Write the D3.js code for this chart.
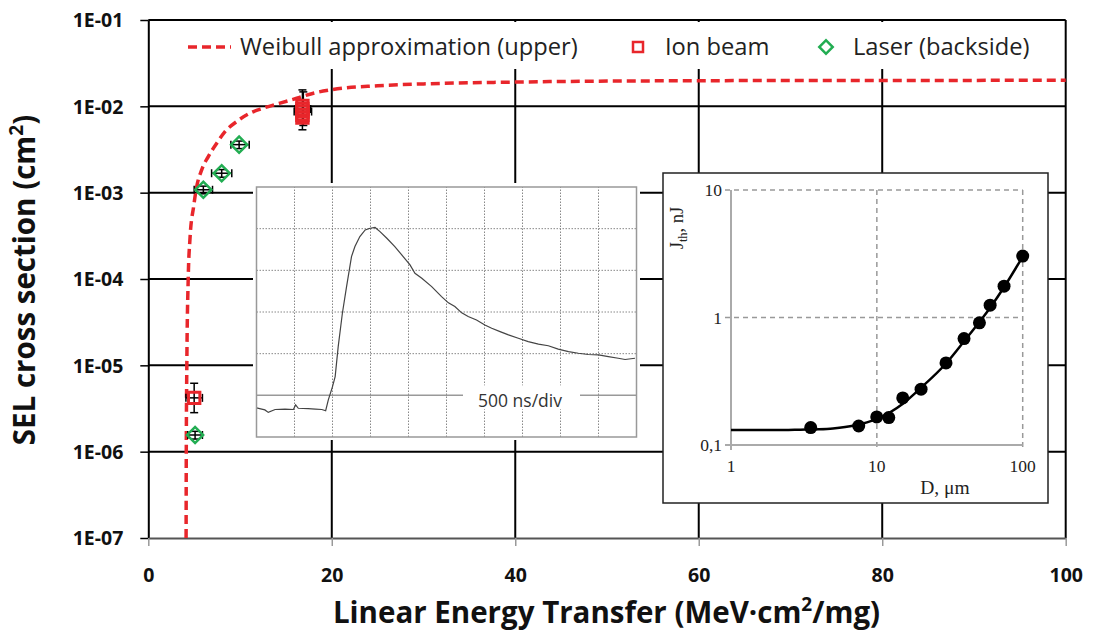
<!DOCTYPE html>
<html>
<head>
<meta charset="UTF-8">
<title>SEL cross section vs LET</title>
<script src="https://cdn.jsdelivr.net/npm/d3@7"></script>
<style>
  body { margin: 0; background: #fff; }
  svg { display: block; font-family: "Open Sans", sans-serif; }
</style>
</head>
<body>
<svg id="chart" width="1106" height="631"></svg>
<script>
// ---------------- main chart data
var xTicks = [0, 20, 40, 60, 80, 100];
var yTicks = [1e-7, 1e-6, 1e-5, 1e-4, 1e-3, 1e-2, 1e-1];
var yTickLabels = ["1E-07", "1E-06", "1E-05", "1E-04", "1E-03", "1E-02", "1E-01"];

// Weibull approximation (upper)
var weibullLET   = [4.12, 4.14, 4.2, 4.35, 4.55, 4.94, 5.28, 5.82, 6.54, 7.46, 8.36, 9.64, 11.09, 12.54, 14.36, 16.18, 18.0, 19.8, 25, 30, 40, 50, 70, 100];
var weibullSigma = [1e-7, 1e-6, 1e-5, 1e-4, 3e-4, 6.9e-4, 1.18e-3, 1.84e-3, 2.62e-3, 3.74e-3, 5.1e-3, 6.67e-3, 8.34e-3, 9.53e-3, 1.09e-2, 1.24e-2, 1.42e-2, 1.55e-2, 1.73e-2, 1.82e-2, 1.91e-2, 1.96e-2, 1.99e-2, 2e-2];

// Ion beam
var ionLET   = [5.0, 16.8, 16.8, 16.8, 16.8, 16.8];
var ionSigma = [4.2e-6, 1.01e-2, 9.3e-3, 8.7e-3, 8.0e-3, 7.4e-3];
var ionErrLET     = [5.0, 16.8, 16.9];
var ionErrSigma   = [4.2e-6, 8.7e-3, 9.3e-3];
var ionErrLETLo   = [4.1, 15.9, 16.0];
var ionErrLETHi   = [5.9, 17.8, 17.7];
var ionErrSigmaLo = [2.83e-6, 5.35e-3, 6.0e-3];
var ionErrSigmaHi = [6.2e-6, 1.55e-2, 1.47e-2];

// Laser (backside)
var laserLET     = [5.1, 6.0, 8.0, 9.9];
var laserSigma   = [1.56e-6, 1.08e-3, 1.68e-3, 3.6e-3];
var laserLETLo   = [4.3, 5.0, 6.9, 9.0];
var laserLETHi   = [5.9, 7.0, 9.1, 11.0];
var laserSigmaLo = [1.4e-6, 0.97e-3, 1.51e-3, 3.24e-3];
var laserSigmaHi = [1.72e-6, 1.19e-3, 1.85e-3, 3.96e-3];

// ---------------- oscilloscope inset (divisions)
var scopeT = [0, 0.22, 0.31, 0.49, 0.75, 0.97, 1.03, 1.10, 1.36, 1.55, 1.72, 1.82, 1.89, 2.0, 2.07, 2.15, 2.26, 2.37, 2.5, 2.59, 2.72, 2.86, 2.99, 3.12, 3.25, 3.43, 3.64, 3.86, 4.04, 4.17, 4.35, 4.61, 4.87, 5.05, 5.22, 5.4, 5.57, 5.79, 6.01, 6.19, 6.41, 6.63, 6.89, 7.15, 7.42, 7.68, 7.94, 8.21, 8.47, 8.73, 9.0, 9.26, 9.52, 9.7, 9.96];
var scopeV = [0.70, 0.65, 0.59, 0.66, 0.67, 0.66, 0.77, 0.69, 0.68, 0.67, 0.66, 0.63, 0.89, 1.21, 1.45, 2.17, 2.97, 3.61, 4.33, 4.57, 4.81, 4.97, 5.01, 5.03, 4.93, 4.77, 4.57, 4.33, 4.13, 3.93, 3.81, 3.61, 3.37, 3.22, 3.13, 2.98, 2.89, 2.81, 2.69, 2.61, 2.53, 2.45, 2.37, 2.29, 2.23, 2.19, 2.11, 2.05, 2.01, 1.98, 1.97, 1.93, 1.89, 1.86, 1.89];

// ---------------- threshold energy inset
var fitD = [1, 2, 3, 4, 5, 7, 10, 15, 20, 30, 40, 50, 60, 75, 100];
var fitJ = [0.131, 0.131, 0.132, 0.133, 0.135, 0.142, 0.16, 0.21, 0.28, 0.44, 0.66, 0.91, 1.2, 1.75, 3.0];
var measD = [3.52, 7.51, 9.98, 12.07, 15.05, 20.1, 29.8, 39.6, 50.5, 59.8, 74.5, 100];
var measJ = [0.137, 0.141, 0.166, 0.164, 0.234, 0.274, 0.44, 0.684, 0.908, 1.25, 1.76, 3.03];
var insetDTicks = [1, 10, 100];
var insetJTicks = [0.1, 1, 10];
var insetJLabels = ["0,1", "1", "10"];

var RED = "#e8262b", GREEN = "#22ad52";

var svg = d3.select("#chart");
var x = d3.scaleLinear().domain([0, 100]).range([148.3, 1065.7]);
var y = d3.scaleLog().domain([1e-7, 1e-1]).range([538, 20]);

//-----------------------------------------
// grid
var grid = svg.append("g");
grid.selectAll(".hg").data(yTicks.slice(1)).enter().append("line")
  .attr("x1", x(0)).attr("x2", x(100))
  .attr("y1", function (d) { return y(d); }).attr("y2", function (d) { return y(d); })
  .attr("stroke", "#000").attr("stroke-width", 2);
grid.selectAll(".vg").data(xTicks.slice(1)).enter().append("line")
  .attr("x1", function (d) { return x(d); }).attr("x2", function (d) { return x(d); })
  .attr("y1", y(1e-7)).attr("y2", y(1e-1))
  .attr("stroke", "#000").attr("stroke-width", 2);

// axes
var yAxis = svg.append("g").attr("transform", "translate(" + x(0) + ",0)")
  .call(d3.axisLeft(y).tickValues(yTicks).tickFormat(function (d, i) { return yTickLabels[i]; })
    .tickSize(8).tickSizeOuter(0).tickPadding(17));
yAxis.select(".domain").attr("stroke", "#000").attr("stroke-width", 2);
yAxis.selectAll(".tick line").attr("stroke", "#000").attr("stroke-width", 1.5);
yAxis.selectAll("text").attr("font-family", "Open Sans").attr("font-weight", "bold")
  .attr("font-size", 19.5).attr("fill", "#111").attr("dy", "0.35em");

var xAxis = svg.append("g").attr("transform", "translate(0," + y(1e-7) + ")")
  .call(d3.axisBottom(x).tickValues(xTicks).tickSize(8).tickSizeOuter(0));
xAxis.select(".domain").attr("stroke", "#555").attr("stroke-width", 2);
xAxis.selectAll(".tick line").attr("stroke", "#999").attr("stroke-width", 1.5);
xAxis.selectAll("text").attr("font-family", "Open Sans").attr("font-weight", "bold")
  .attr("font-size", 19.5).attr("fill", "#111").attr("y", 44).attr("dy", 0);

// axis titles
var xt = svg.append("text").attr("x", 606.5).attr("y", 623).attr("text-anchor", "middle")
  .attr("font-weight", "bold").attr("font-size", 29.5).attr("fill", "#111");
xt.append("tspan").text("Linear Energy Transfer (MeV\u00b7cm");
xt.append("tspan").attr("font-size", 19).attr("dy", -12).text("2");
xt.append("tspan").attr("dy", 12).text("/mg)");

var yt = svg.append("text").attr("transform", "translate(35,280) rotate(-90)").attr("text-anchor", "middle")
  .attr("font-weight", "bold").attr("font-size", 29.5).attr("fill", "#111");
yt.append("tspan").text("SEL cross section (cm");
yt.append("tspan").attr("font-size", 19).attr("dy", -12).text("2");
yt.append("tspan").attr("dy", 12).text(")");

//-----------------------------------------
// legend
var lg = svg.append("g");
lg.append("rect").attr("x", 150).attr("y", 22).attr("width", 914).attr("height", 47).attr("fill", "#fff");
lg.append("line").attr("x1", 188).attr("x2", 231).attr("y1", 47).attr("y2", 47)
  .attr("stroke", RED).attr("stroke-width", 3.5).attr("stroke-dasharray", "9,5");
lg.append("path").attr("transform", "translate(638,47)")
  .attr("d", d3.symbol().type(d3.symbolSquare).size(100)())
  .attr("fill", "none").attr("stroke", RED).attr("stroke-width", 2.5);
lg.append("path").attr("transform", "translate(826,47) rotate(45)")
  .attr("d", d3.symbol().type(d3.symbolSquare).size(90)())
  .attr("fill", "none").attr("stroke", GREEN).attr("stroke-width", 2.5);
var legendItems = [
  { label: "Weibull approximation (upper)", x: 240 },
  { label: "Ion beam", x: 665 },
  { label: "Laser (backside)", x: 853 }
];
lg.selectAll(".lt").data(legendItems).enter().append("text")
  .attr("x", function (d) { return d.x; }).attr("y", 55)
  .attr("font-size", 23.7).attr("fill", "#222")
  .text(function (d) { return d.label; });

//-----------------------------------------
// inset 1: oscilloscope trace
var sx = d3.scaleLinear().domain([0, 10]).range([256.5, 636.5]);
var sy = d3.scaleLinear().domain([0, 6]).range([437, 187]);
var ins1 = svg.append("g");
ins1.append("rect").attr("x", 253).attr("y", 183).attr("width", 387).attr("height", 257).attr("fill", "#fff");
ins1.selectAll(".sv").data(d3.range(1, 10)).enter().append("line")
  .attr("x1", function (d) { return sx(d); }).attr("x2", function (d) { return sx(d); })
  .attr("y1", sy(0)).attr("y2", sy(6))
  .attr("stroke", "#888").attr("stroke-width", 1).attr("stroke-dasharray", "1.5,1.5");
ins1.selectAll(".sh").data([2, 3, 4, 5]).enter().append("line")
  .attr("x1", sx(0)).attr("x2", sx(10))
  .attr("y1", function (d) { return sy(d); }).attr("y2", function (d) { return sy(d); })
  .attr("stroke", "#888").attr("stroke-width", 1).attr("stroke-dasharray", "1.5,1.5");
ins1.append("line").attr("x1", sx(0)).attr("x2", sx(10)).attr("y1", sy(1)).attr("y2", sy(1))
  .attr("stroke", "#999").attr("stroke-width", 1.5);
ins1.append("rect").attr("x", 463).attr("y", sy(1) - 10).attr("width", 117).attr("height", 24).attr("fill", "#fff");
ins1.append("text").attr("x", 520).attr("y", sy(1) + 12).attr("text-anchor", "middle")
  .attr("font-size", 17.5).attr("fill", "#333").text("500 ns/div");
ins1.append("path").datum(d3.zip(scopeT, scopeV))
  .attr("d", d3.line().x(function (d) { return sx(d[0]); }).y(function (d) { return sy(d[1]); }))
  .attr("fill", "none").attr("stroke", "#444").attr("stroke-width", 1.2);
ins1.append("rect").attr("x", sx(0)).attr("y", sy(6)).attr("width", sx(10) - sx(0)).attr("height", sy(0) - sy(6))
  .attr("fill", "none").attr("stroke", "#999").attr("stroke-width", 1.5);

//-----------------------------------------
// inset 2: threshold energy vs spot diameter
var dx = d3.scaleLog().domain([1, 100]).range([731, 1022.7]);
var jy = d3.scaleLog().domain([0.1, 10]).range([445, 190]);
var ins2 = svg.append("g").attr("font-family", "Liberation Serif");
ins2.append("rect").attr("x", 663).attr("y", 173).attr("width", 385).attr("height", 330)
  .attr("fill", "#fff").attr("stroke", "#222").attr("stroke-width", 1.5);
ins2.selectAll(".dg").data(insetDTicks.slice(1)).enter().append("line")
  .attr("x1", function (d) { return dx(d); }).attr("x2", function (d) { return dx(d); })
  .attr("y1", jy(10)).attr("y2", jy(0.1) + 5)
  .attr("stroke", "#999").attr("stroke-width", 1.5).attr("stroke-dasharray", "5,4");
ins2.selectAll(".jg").data(insetJTicks.slice(1)).enter().append("line")
  .attr("x1", dx(1) - 6).attr("x2", dx(100))
  .attr("y1", function (d) { return jy(d); }).attr("y2", function (d) { return jy(d); })
  .attr("stroke", "#999").attr("stroke-width", 1.5).attr("stroke-dasharray", "5,4");
ins2.append("line").attr("x1", dx(1)).attr("x2", dx(1)).attr("y1", jy(10)).attr("y2", jy(0.1) + 5)
  .attr("stroke", "#aaa").attr("stroke-width", 2);
ins2.append("line").attr("x1", dx(1) - 6).attr("x2", dx(100)).attr("y1", jy(0.1)).attr("y2", jy(0.1))
  .attr("stroke", "#aaa").attr("stroke-width", 2);
ins2.selectAll(".jl").data(insetJTicks).enter().append("text")
  .attr("x", dx(1) - 9).attr("y", function (d) { return jy(d) + 6; })
  .attr("text-anchor", "end").attr("font-size", 17.5).attr("fill", "#222")
  .text(function (d, i) { return insetJLabels[i]; });
ins2.selectAll(".dl").data(insetDTicks).enter().append("text")
  .attr("x", function (d) { return dx(d); }).attr("y", 472)
  .attr("text-anchor", "middle").attr("font-size", 17.5).attr("fill", "#222")
  .text(function (d) { return d; });
ins2.append("text").attr("x", 945).attr("y", 494).attr("text-anchor", "middle")
  .attr("font-size", 19.5).attr("fill", "#222").text("D, \u03bcm");
var jt = ins2.append("text").attr("transform", "translate(683,228) rotate(-90)").attr("text-anchor", "middle")
  .attr("font-size", 18.5).attr("fill", "#222");
jt.append("tspan").text("J");
jt.append("tspan").attr("font-size", 12.5).attr("dy", 4).text("th");
jt.append("tspan").attr("dy", -4).text(", nJ");
ins2.append("path").datum(d3.zip(fitD, fitJ))
  .attr("d", d3.line().curve(d3.curveMonotoneX).x(function (d) { return dx(d[0]); }).y(function (d) { return jy(d[1]); }))
  .attr("fill", "none").attr("stroke", "#000").attr("stroke-width", 2.5);
ins2.selectAll(".pt").data(d3.zip(measD, measJ)).enter().append("circle")
  .attr("cx", function (d) { return dx(d[0]); }).attr("cy", function (d) { return jy(d[1]); })
  .attr("r", 6.5).attr("fill", "#000");

//-----------------------------------------
// Weibull curve
svg.append("path").datum(d3.zip(weibullLET, weibullSigma))
  .attr("d", d3.line().curve(d3.curveMonotoneX).x(function (d) { return x(d[0]); }).y(function (d) { return y(d[1]); }))
  .attr("fill", "none").attr("stroke", RED).attr("stroke-width", 3.5).attr("stroke-dasharray", "9,5");

// error bars
function errorBars(g, L, S, Llo, Lhi, Slo, Shi) {
  var cap = 4;
  for (var i = 0; i < L.length; i++) {
    var cx = x(L[i]), cy = y(S[i]);
    var segs = [
      [cx, y(Slo[i]), cx, y(Shi[i])],
      [cx - cap, y(Slo[i]), cx + cap, y(Slo[i])],
      [cx - cap, y(Shi[i]), cx + cap, y(Shi[i])],
      [x(Llo[i]), cy, x(Lhi[i]), cy],
      [x(Llo[i]), cy - cap, x(Llo[i]), cy + cap],
      [x(Lhi[i]), cy - cap, x(Lhi[i]), cy + cap]
    ];
    g.selectAll(null).data(segs).enter().append("line")
      .attr("x1", function (d) { return d[0]; }).attr("y1", function (d) { return d[1]; })
      .attr("x2", function (d) { return d[2]; }).attr("y2", function (d) { return d[3]; })
      .attr("stroke", "#000").attr("stroke-width", 1.5);
  }
}
var eb = svg.append("g");
errorBars(eb, ionErrLET, ionErrSigma, ionErrLETLo, ionErrLETHi, ionErrSigmaLo, ionErrSigmaHi);
errorBars(eb, laserLET, laserSigma, laserLETLo, laserLETHi, laserSigmaLo, laserSigmaHi);

// markers
svg.selectAll(".ion").data(d3.zip(ionLET, ionSigma)).enter().append("path")
  .attr("transform", function (d) { return "translate(" + x(d[0]) + "," + y(d[1]) + ")"; })
  .attr("d", d3.symbol().type(d3.symbolSquare).size(130)())
  .attr("fill", "none").attr("stroke", RED).attr("stroke-width", 3);
svg.selectAll(".laser").data(d3.zip(laserLET, laserSigma)).enter().append("path")
  .attr("transform", function (d) { return "translate(" + x(d[0]) + "," + y(d[1]) + ") rotate(45)"; })
  .attr("d", d3.symbol().type(d3.symbolSquare).size(130)())
  .attr("fill", "none").attr("stroke", GREEN).attr("stroke-width", 2.5);
</script>
</body>
</html>
